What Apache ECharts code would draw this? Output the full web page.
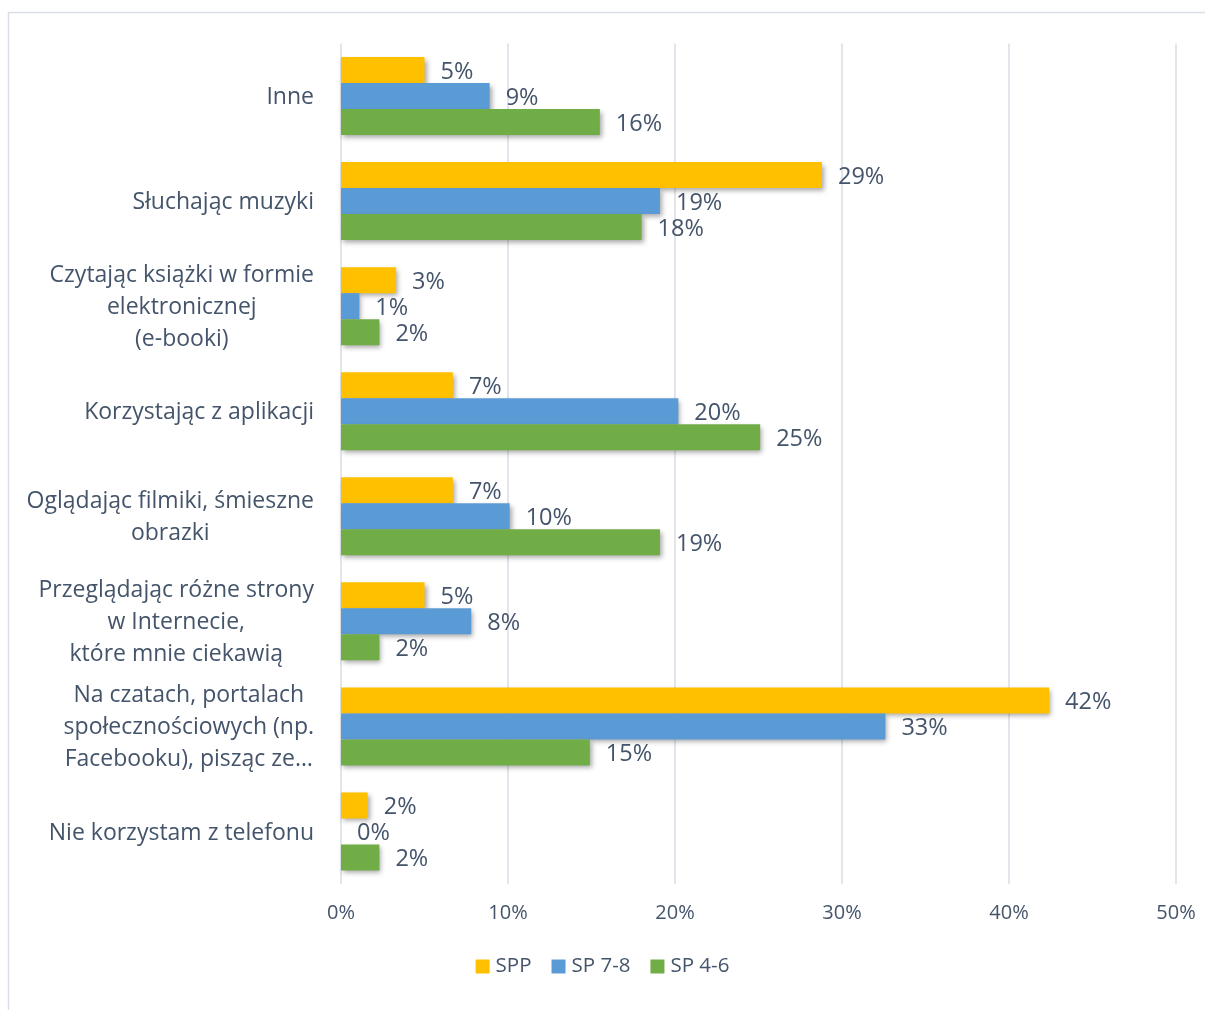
<!DOCTYPE html>
<html>
<head>
<meta charset="utf-8">
<script src="https://cdn.jsdelivr.net/npm/echarts@6/dist/echarts.min.js"></script>
<style>
html,body{margin:0;padding:0;background:#fff;}
#chart{width:1205px;height:1010px;}
</style>
</head>
<body>
<div id="chart"></div>
<script>
// Categories, top to bottom
var categories = [
  'Inne',
  'Słuchając muzyki',
  'Czytając książki w formie\nelektronicznej\n(e-booki)',
  'Korzystając z aplikacji',
  'Oglądając filmiki, śmieszne\nobrazki',
  'Przeglądając różne strony\nw Internecie,\nktóre mnie ciekawią',
  'Na czatach, portalach\nspołecznościowych (np.\nFacebooku), pisząc ze…',
  'Nie korzystam z telefonu'
];
var seriesNames = ['SPP', 'SP 7-8', 'SP 4-6'];
var sppValues  = [5.0, 28.8, 3.3, 6.7, 6.7, 5.0, 42.4, 1.6];
var sp78Values = [8.9, 19.1, 1.1, 20.2, 10.1, 7.8, 32.6, 0];
var sp46Values = [15.5, 18.0, 2.3, 25.1, 19.1, 2.3, 14.9, 2.3];
var xTicks = [0, 10, 20, 30, 40, 50];

var colors = ['#FFC000', '#5B9BD5', '#70AD47'];
var textColor = '#44546A';
var font = 'Open Sans';

var chart = echarts.init(document.getElementById('chart'), null, {renderer: 'canvas'});

function makeSeries(name, data, color) {
  return {
    name: name,
    type: 'bar',
    data: data,
    barGap: '0%',
    barCategoryGap: '25.7%',
    itemStyle: {
      color: color,
      shadowColor: 'rgba(0,0,0,0.35)',
      shadowBlur: 5,
      shadowOffsetX: 2,
      shadowOffsetY: 3
    },
    label: {
      show: true,
      position: 'right',
      distance: 16,
      offset: [0, 2],
      color: textColor,
      fontFamily: font,
      fontSize: 23.5,
      formatter: function (p) { return Math.round(p.value) + '%'; }
    }
  };
}

var option = {
  animation: false,
  backgroundColor: '#fff',
  graphic: [{
    type: 'rect',
    shape: {x: 8.5, y: 12.5, width: 1400, height: 1200},
    style: {fill: 'none', stroke: '#d9dee6', lineWidth: 1.5},
    silent: true
  }],
  legend: {
    data: seriesNames,
    left: 'center',
    top: 951,
    icon: 'rect',
    itemWidth: 14,
    itemHeight: 14,
    itemGap: 20,
    textStyle: {color: textColor, fontFamily: font, fontSize: 20.5, padding: [0, 0, 0, 1]}
  },
  grid: {left: 341, right: 29, top: 43.5, bottom: 126, containLabel: false},
  xAxis: {
    type: 'value',
    min: 0,
    max: 50,
    interval: 10,
    axisLine: {show: false},
    axisTick: {show: false},
    splitLine: {show: true, lineStyle: {color: '#d9dee6', width: 1.5}},
    axisLabel: {
      color: textColor, fontFamily: font, fontSize: 20, margin: 19,
      formatter: function (v) { return xTicks.indexOf(v) >= 0 ? v + '%' : ''; }
    }
  },
  yAxis: {
    type: 'category',
    inverse: true,
    data: categories,
    axisLine: {show: false},
    axisTick: {show: false},
    axisLabel: {
      margin: 27,
      align: 'right',
      padding: [3, 0, 0, 0],
      formatter: function (v) {
        return v.split('\n').map(function (l) { return '{c|' + l + '}'; }).join('\n');
      },
      rich: {
        c: {align: 'center', color: textColor, fontFamily: font, fontSize: 23, lineHeight: 32}
      }
    }
  },
  series: [
    makeSeries(seriesNames[0], sppValues, colors[0]),
    makeSeries(seriesNames[1], sp78Values, colors[1]),
    makeSeries(seriesNames[2], sp46Values, colors[2])
  ]
};
chart.setOption(option);
</script>
</body>
</html>
